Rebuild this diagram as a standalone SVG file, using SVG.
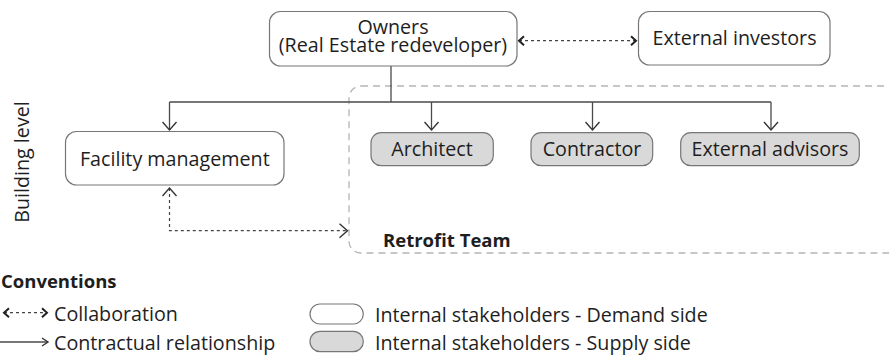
<svg xmlns="http://www.w3.org/2000/svg" width="889" height="356" viewBox="0 0 889 356">
<defs>
<style>
text{font-family:"Open Sans","Liberation Sans",sans-serif;font-size:19.7px;fill:#1e1e1e}
.b{font-weight:bold}
.m{text-anchor:middle}
.demand{fill:#fff;stroke:#777;stroke-width:1.2}
.supply{fill:#d9d9d9;stroke:#777;stroke-width:1.2}
.solid{fill:none;stroke:#4a4a4a;stroke-width:1.3}
.dot{fill:none;stroke:#444;stroke-width:1.2;stroke-dasharray:3 3}
.team{fill:none;stroke:#b5b5b5;stroke-width:1.3;stroke-dasharray:7 5}
</style>
<marker id="ah" markerUnits="userSpaceOnUse" viewBox="-10 -8 12 16" refX="0" refY="0" markerWidth="12" markerHeight="16" orient="auto-start-reverse">
<path d="M-8,-7 L0,0 L-8,7" fill="none" stroke="#333" stroke-width="1.4"/>
</marker>
<marker id="dh" markerUnits="userSpaceOnUse" viewBox="-8 -6 10 12" refX="0" refY="0" markerWidth="10" markerHeight="12" orient="auto-start-reverse">
<path d="M-5,-4.5 L0,0 L-5,4.5" fill="none" stroke="#222" stroke-width="2"/>
</marker>
</defs>
<rect width="889" height="356" fill="#fff"/>

<g id="retrofit-team">
<rect class="team" x="349" y="86" width="570" height="167" rx="12"/>
<text class="b" x="383" y="247" style="font-size:18.5px">Retrofit Team</text>
</g>

<g id="connectors">
<path class="solid" d="M391,66 V102"/>
<path class="solid" d="M169.5,102 H771"/>
<path class="solid" d="M169.5,102 V130" marker-end="url(#ah)"/>
<path class="solid" d="M431.5,102 V130" marker-end="url(#ah)"/>
<path class="solid" d="M592.5,102 V130" marker-end="url(#ah)"/>
<path class="solid" d="M771,102 V130" marker-end="url(#ah)"/>
<path class="dot" d="M519,40.7 H636" marker-start="url(#dh)" marker-end="url(#dh)"/>
<path class="dot" d="M169.5,188 V230.7 H347.5" marker-start="url(#ah)" marker-end="url(#ah)"/>
</g>

<g id="owners">
<rect class="demand" x="269.5" y="11.5" width="247.5" height="54.5" rx="11"/>
<text class="m" x="393" y="33.5">Owners</text>
<text class="m" x="393" y="52">(Real Estate redeveloper)</text>
</g>

<g id="external-investors">
<rect class="demand" x="638.5" y="11.5" width="191.5" height="53.5" rx="11"/>
<text class="m" x="734.5" y="44.5">External investors</text>
</g>

<g id="facility-management">
<rect class="demand" x="65.5" y="131.5" width="218.5" height="53.5" rx="11"/>
<text class="m" x="174.8" y="165.5">Facility management</text>
</g>

<g id="architect">
<rect class="supply" x="371" y="132.7" width="122.3" height="33" rx="10"/>
<text class="m" x="432" y="156">Architect</text>
</g>

<g id="contractor">
<rect class="supply" x="531" y="132.7" width="121.7" height="33" rx="10"/>
<text class="m" x="592" y="156">Contractor</text>
</g>

<g id="external-advisors">
<rect class="supply" x="680.7" y="132.7" width="178.6" height="33" rx="10"/>
<text class="m" x="770" y="156">External advisors</text>
</g>

<g id="building-level">
<text class="m" transform="translate(28.5,162) rotate(-90)">Building level</text>
</g>

<g id="legend">
<text class="b" x="1" y="288" style="font-size:18.5px">Conventions</text>
<path class="dot" d="M4,312.7 H47" marker-start="url(#dh)" marker-end="url(#dh)"/>
<text x="54" y="320.5">Collaboration</text>
<path class="solid" d="M0,342 H48"/>
<path d="M42,338 L48,342 L42,346" fill="none" stroke="#333" stroke-width="1.4"/>
<text x="54" y="350">Contractual relationship</text>
<rect class="demand" x="310" y="304" width="53.3" height="20" rx="10"/>
<text x="375" y="321.5">Internal stakeholders - Demand side</text>
<rect class="supply" x="310" y="331.3" width="53.3" height="20.4" rx="10"/>
<text x="375" y="350">Internal stakeholders - Supply side</text>
</g>
</svg>
